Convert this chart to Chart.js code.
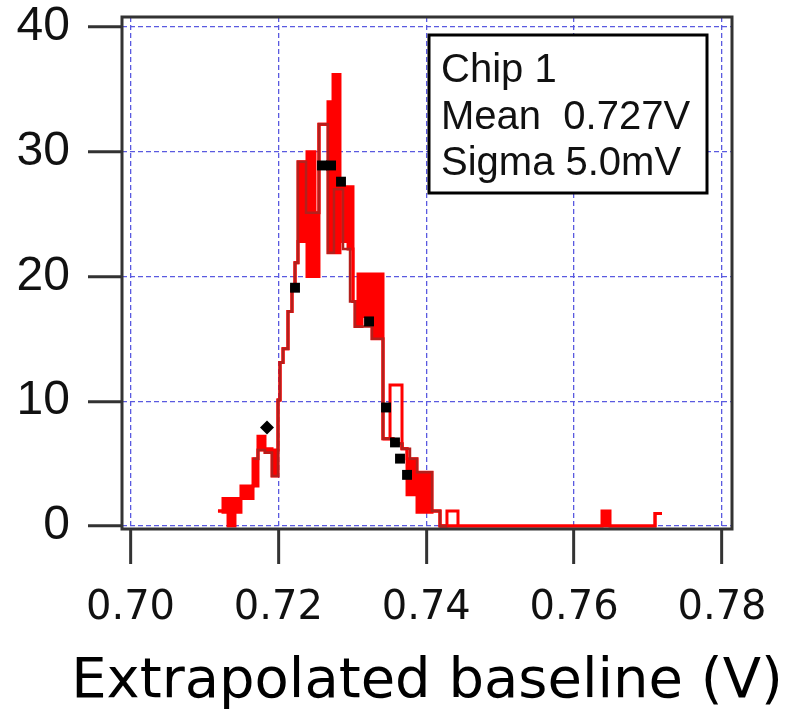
<!DOCTYPE html>
<html><head><meta charset="utf-8">
<script src="https://cdn.jsdelivr.net/npm/chart.js@4/dist/chart.umd.min.js"></script>
<style>html,body{margin:0;padding:0;background:#fff;}#wrap{width:787px;height:709px;}</style>
</head><body><div id="wrap"><canvas id="c" width="787" height="709"></canvas></div>
<script>
// ---- data ----
const xTicks = [0.70, 0.72, 0.74, 0.76, 0.78];
const yTicks = [0, 10, 20, 30, 40];

// histogram band (filled bright red between low and high), left bin edges in V
const bandEdges = [0.71183,0.71251,0.71319,0.71413,0.71494,0.71657,0.71724,0.71819,0.71914,0.71995,0.72022,0.72063,0.72130,0.72184,0.72225,0.72265,0.72387,0.72495,0.72549,0.72671,0.72739,0.72833,0.72874,0.72942,0.73009,0.73036,0.73077,0.73131,0.73266,0.73415,0.73550,0.73672,0.73740,0.73875,0.74078,0.74186,0.74280,0.74429,0.76377,0.76485,0.77094];
const bandLow   = [1.2,1.1,0,1.1,2.2,3.2,6.1,5.9,4.0,10.1,13.1,14.2,17.2,19.2,21.1,22.8,20.0,20.0,32.2,21.9,21.9,27.0,22.8,22.2,18.0,16.0,16.0,16.8,15.0,7.0,6.6,6.2,2.5,1.1,1.2,0,0,0,0,0,1.0];
const bandHigh  = [1.2,2.2,2.2,2.2,3.2,5.4,7.2,6.2,6.1,10.1,13.1,14.2,17.2,19.2,21.1,29.2,30.0,25.1,32.2,34.0,36.2,27.0,27.2,27.2,18.0,18.0,20.2,20.2,20.2,7.0,6.6,6.2,5.4,4.3,1.2,0,0,0,1.2,0,1.0];
const bandEnd = 0.77188;

// dark red histogram trace
const darkEdges  = [0.71657,0.71724,0.71819,0.71914,0.71995,0.72022,0.72063,0.72130,0.72184,0.72225,0.72265,0.72374,0.72549,0.72671,0.72752,0.72874,0.72969,0.73036,0.73266,0.73415,0.73550,0.73672,0.73780,0.73875,0.74078,0.74186];
const darkValues = [5.4,6.1,5.9,4.0,10.1,13.1,14.2,17.2,19.2,21.1,29.2,25.1,32.2,21.9,27.0,22.2,18.0,16.0,15.0,7.0,6.6,6.2,5.4,4.3,1.2,0];
const darkEnd = 0.74280;

// outline-only spikes (null = gap)
const spikeX = [0.73415,0.73510,0.73672,0.73800,0.74186,0.74280,0.74429];
const spikeY = [7.0,11.3,6.2,null,0,1.2,0];

// black fit markers
const fitX = [0.71846,0.72225,0.72590,0.72712,0.72847,0.73226,0.73456,0.73577,0.73645,0.73740];
const fitY = [7.9,19.1,28.9,28.9,27.6,16.4,9.5,6.7,5.4,4.1];
const fitStyle = ['rectRot','rect','rect','rect','rect','rect','rect','rect','rect','rect'];

const legendLines = ['Chip 1', 'Mean  0.727V', 'Sigma 5.0mV'];
const xTitle = 'Extrapolated baseline (V)';

// ---- build step vertices (histogram outline) ----
function stepPts(edges, vals, end){
  const p = [];
  for (let i = 0; i < edges.length; i++){
    if (i > 0 && vals[i-1] !== null && vals[i] !== null) p.push({x: edges[i], y: vals[i-1]});
    p.push({x: edges[i], y: vals[i]});
  }
  if (end !== undefined) p.push({x: end, y: vals[vals.length-1]});
  return p;
}
const RED = '#ff0000';
const DARK = '#b3201c';

const framePlugin = {
  id: 'frame',
  afterDatasetsDraw(chart){
    const {ctx, chartArea:a} = chart;
    ctx.save();
    ctx.setLineDash([]);
    const bx = a.left + 307, by = a.top + 18, bw = 278, bh = 158;
    ctx.fillStyle = '#fff';
    ctx.fillRect(bx, by, bw, bh);
    ctx.strokeStyle = '#000';
    ctx.lineWidth = 3;
    ctx.strokeRect(bx, by, bw, bh);
    ctx.fillStyle = '#111';
    ctx.font = '40px "Liberation Sans", Arial, sans-serif';
    ctx.textBaseline = 'alphabetic';
    ctx.textAlign = 'left';
    legendLines.forEach((t,i)=>ctx.fillText(t, bx + 12, by + 47 + i*46.5));
    ctx.strokeStyle = '#333';
    ctx.lineWidth = 3;
    ctx.strokeRect(a.left, a.top, a.right - a.left, a.bottom - a.top);
    // x axis title
    ctx.fillStyle = '#000';
    ctx.font = '56px "DejaVu Sans", sans-serif';
    ctx.textAlign = 'center';
    ctx.fillText(xTitle, (a.left + a.right) / 2, chart.height - 12);
    ctx.restore();
  }
};

function gridOpts(len){
  return {
    color: '#5a5ae0',
    lineWidth: 1.3,
    drawTicks: true,
    tickLength: len,
    tickWidth: 3,
    tickColor: '#333',
    tickBorderDash: []
  };
}

new Chart(document.getElementById('c'), {
  type: 'line',
  data: {
    datasets: [
      {label:'fit', type:'scatter', data: fitX.map((x,i)=>({x, y:fitY[i]})), pointStyle: fitStyle, pointRadius: 7, backgroundColor:'#000', borderColor:'#000', borderWidth:0, showLine:false, order:0},
      {label:'dark', data: stepPts(darkEdges, darkValues, darkEnd), borderColor: DARK, borderWidth: 2.5, pointRadius:0, fill:false, order:1},
      {label:'spikes', data: stepPts(spikeX, spikeY), borderColor: RED, borderWidth: 3, pointRadius:0, fill:false, spanGaps:false, order:2},
      {label:'hi', data: stepPts(bandEdges, bandHigh, bandEnd), borderColor: RED, backgroundColor: RED, borderWidth: 3, pointRadius:0, fill:'+1', order:3},
      {label:'lo', data: stepPts(bandEdges, bandLow, bandEnd), borderColor: RED, borderWidth: 3, pointRadius:0, fill:false, order:4}
    ]
  },
  options: {
    responsive: false,
    animation: false,
    layout: {padding: {top: 17, right: 55, left: 0, bottom: 0}},
    plugins: {legend: {display:false}, tooltip: {enabled:false}},
    scales: {
      x: {
        type: 'linear', min: 0.69885, max: 0.78135,
        afterBuildTicks: s => { s.ticks = xTicks.map(v=>({value:v})); },
        afterFit: s => { s.height = 180; s.paddingLeft = 0; s.paddingRight = 0; },
        grid: gridOpts(35),
        border: {display:false, dash:[5,3]},
        ticks: {autoSkip:false, maxRotation:0, padding: 21, color:'#111', font:{family:'"DejaVu Sans", sans-serif', size:40}, callback: v => Number(v).toFixed(2)},
        title: {display:false}
      },
      y: {
        type: 'linear', min: -0.24, max: 40.8,
        afterBuildTicks: s => { s.ticks = yTicks.map(v=>({value:v})); },
        afterFit: s => { s.width = 122; s.paddingTop = 0; s.paddingBottom = 0; },
        grid: gridOpts(34),
        border: {display:false, dash:[5,3]},
        ticks: {padding: 18, color:'#111', font:{family:'"Liberation Sans", Arial, sans-serif', size:48}, callback: v => String(v)}
      }
    }
  },
  plugins: [framePlugin]
});
</script></body></html>
